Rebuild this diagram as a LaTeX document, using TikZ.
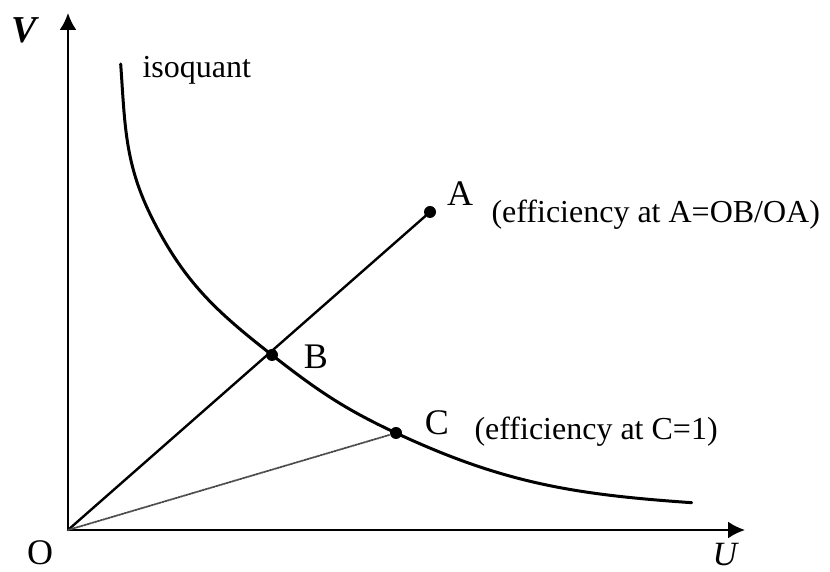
\documentclass[tikz,border=0pt]{standalone}
\usepackage{fontspec}
\setmainfont{Liberation Serif}
\usetikzlibrary{arrows.meta}
\tikzset{
  dot/.style={circle,fill=black,minimum size=12pt,inner sep=0pt},
  lbl/.style={font=\fontsize{36}{38}\selectfont},
  note/.style={anchor=west,font=\fontsize{32}{34}\selectfont},
  axis/.style={line width=2.2pt,-{Latex[length=17pt,width=17pt]}}
}
\begin{document}
\begin{tikzpicture}[x=1pt,y=1pt,line cap=round,line join=round]
\path[use as bounding box] (-68,-42) rectangle (762,530);
\coordinate (O) at (0,0);
\coordinate (Vend) at (0,517);
\coordinate (Uend) at (677,0);
\node[dot] (A) at (362,318) {};
\node[dot] (B) at (204,175) {};
\node[dot] (C) at (328,97) {};
\draw[axis] (O) -- (Vend);
\draw[axis] (O) -- (Uend);
% isoquant
\draw[line width=3pt] (52.7,466) to[out=-86,in=117] (85,310) to[out=-63,in=142] (B.center)
  to[out=-38,in=155] (C.center) to[out=-25,in=176] (623.7,27.3);
\draw[line width=2.4pt] (O) -- (A);
\draw[line width=1.8pt,densely dotted,black!70] (O) -- (C);
\node[font=\bfseries\itshape\fontsize{38}{40}\selectfont] (Vlbl) at (-44,500) {V};
\node[inner sep=0pt,font=\itshape\fontsize{34}{36}\selectfont] (Ulbl) at (657,-25) {U};
\node[lbl] (Olbl) at (-28,-23) {O};
\node[note] (isoq) at (71,460) {isoquant};
\node[lbl] (Albl) at (392,336) {A};
\node[note] (Anote) at (420,315) {(efficiency at A=OB/OA)};
\node[lbl] (Blbl) at (248,173) {B};
\node[lbl] (Clbl) at (369,107) {C};
\node[note] (Cnote) at (403,98) {(efficiency at C=1)};
\end{tikzpicture}
\end{document}
